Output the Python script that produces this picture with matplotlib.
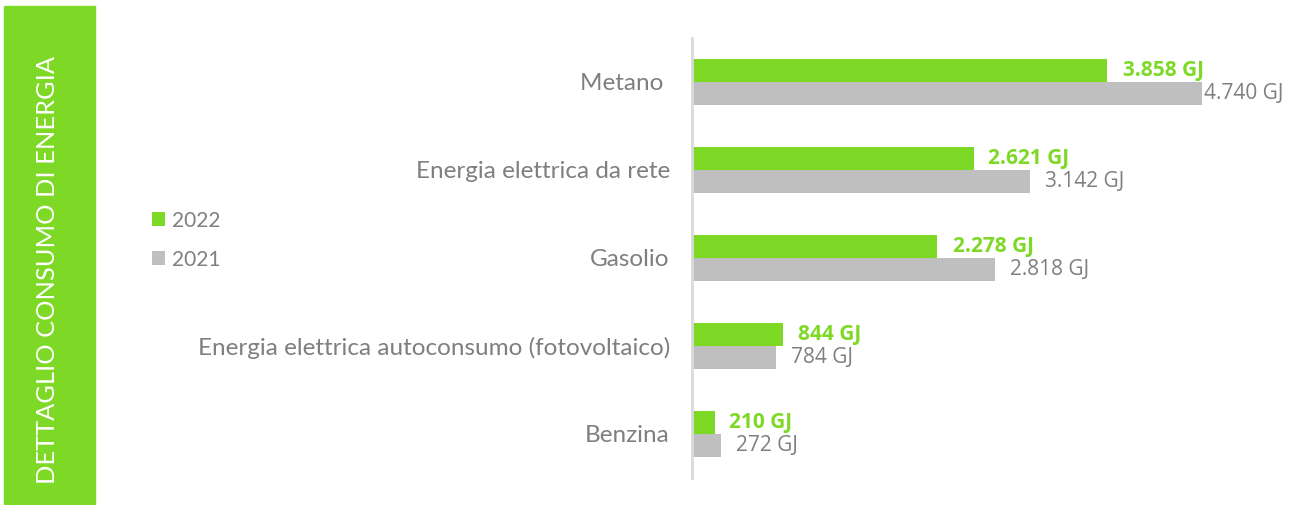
import numpy as np
import matplotlib.pyplot as plt
from matplotlib.patches import Rectangle

# dati consumo energia (GJ)
categorie = ["Metano ", "Energia elettrica da rete", "Gasolio",
             "Energia elettrica autoconsumo (fotovoltaico)", "Benzina"]
val_2022 = [3858, 2621, 2278, 844, 210]
val_2021 = [4740, 3142, 2818, 784, 272]
lab_2022 = ["3.858 GJ", "2.621 GJ", "2.278 GJ", "844 GJ", "210 GJ"]
lab_2021 = ["4.740 GJ", "3.142 GJ", "2.818 GJ", "784 GJ", "272 GJ"]
anni = ["2022", "2021"]

verde = '#7ed926'
grigio = '#bfbfbf'
testo = '#7f7f7f'

W, H = 1309, 505
fig = plt.figure(figsize=(W/100, H/100), dpi=100, facecolor='w')

# banda verde laterale
fig.patches.append(Rectangle((4/W, 0), 91/W, (H-6)/H, transform=fig.transFigure,
                             color=verde, zorder=0))
fig.text(48/W, 1 - 270/H, "DETTAGLIO CONSUMO DI ENERGIA", rotation=90, color='w',
         ha='center', va='center', fontsize=18.3, family='Lato')

ax = fig.add_axes([692/W, 27/H, (1300-692)/W, 440/H])
y = np.arange(len(categorie))
h = 0.26
ax.barh(y - h/2, val_2022, height=h, color=verde, label=anni[0])
ax.barh(y + h/2, val_2021, height=h, color=grigio, label=anni[1])
ax.set_xlim(0, (1300-692)/0.1076)
ax.set_ylim(len(categorie) - 0.5, -0.5)

off21 = [2, 15, 15, 15, 15]
off22 = [16, 14, 16, 15, 14]
for i in range(len(categorie)):
    ax.annotate(lab_2022[i], (val_2022[i], y[i] - h/2), xytext=(off22[i], 0),
                textcoords='offset pixels', va='center', ha='left', color=verde,
                fontsize=15, fontweight='bold', family='Open Sans')
    ax.annotate(lab_2021[i], (val_2021[i], y[i] + h/2), xytext=(off21[i], 0),
                textcoords='offset pixels', va='center', ha='left', color=testo,
                fontsize=15, family='Open Sans')

ax.set_yticks(y)
ax.set_yticklabels(categorie, fontsize=17.5, color=testo, family='Lato')
ax.tick_params(axis='y', length=0, pad=16)
ax.set_xticks([])
for s in ['top', 'right', 'bottom']:
    ax.spines[s].set_visible(False)
ax.spines['left'].set_color('#d9d9d9')
ax.spines['left'].set_linewidth(2)

fig.legend(loc='upper left', bbox_to_anchor=(133/W, 1 - 192/H), frameon=False,
           labelcolor=testo, handlelength=0.65, handleheight=0.65,
           labelspacing=0.9, handletextpad=0.3, prop={'family': 'Lato', 'size': 15})

plt.savefig("out.png", dpi=100)
